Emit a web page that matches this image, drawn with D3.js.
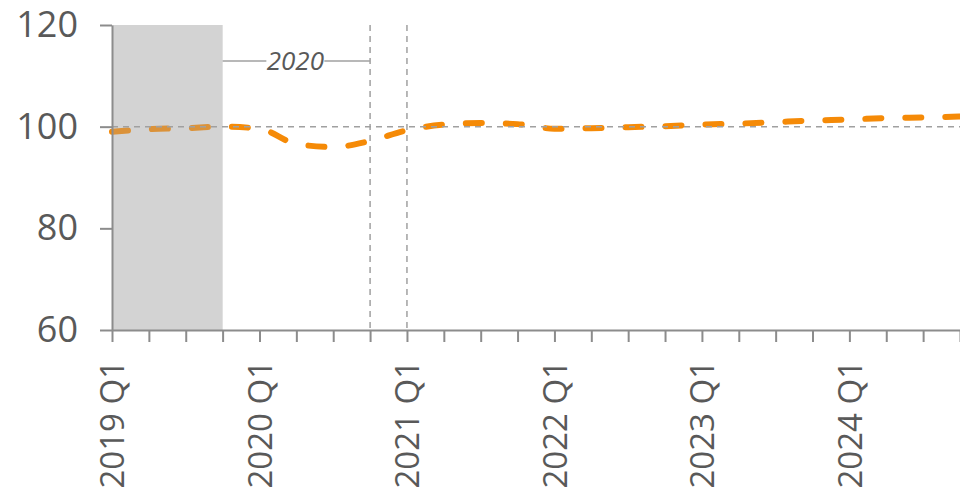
<!DOCTYPE html>
<html>
<head>
<meta charset="utf-8">
<script src="https://cdn.jsdelivr.net/npm/d3@7"></script>
<style>
  html, body { margin: 0; padding: 0; background: #fff; overflow: hidden; }
  svg { display: block; font-family: "Open Sans", "Liberation Sans", sans-serif; }
</style>
</head>
<body>
<div id="chart"></div>
<script>
const quarters = [
  "2019 Q1", "2019 Q2", "2019 Q3", "2019 Q4",
  "2020 Q1", "2020 Q2", "2020 Q3", "2020 Q4",
  "2021 Q1", "2021 Q2", "2021 Q3", "2021 Q4",
  "2022 Q1", "2022 Q2", "2022 Q3", "2022 Q4",
  "2023 Q1", "2023 Q2", "2023 Q3", "2023 Q4",
  "2024 Q1", "2024 Q2", "2024 Q3", "2024 Q4"
];
const indexValues = [
  99.0, 99.5, 99.7, 100.0,
  99.6, 96.6, 96.0, 97.2,
  99.3, 100.4, 100.7, 100.5,
  99.6, 99.7, 99.9, 100.1,
  100.4, 100.6, 100.9, 101.2,
  101.4, 101.7, 101.8, 102.0
];
const yTicks = [60, 80, 100, 120];
const shadedRange = ["2019 Q1", "2019 Q4"];
const markerLines = ["2020 Q4", "2021 Q1"];
const bracketLabel = "2020";

const width = 960, height = 489;
const margin = {top: 25, right: 0, bottom: 159, left: 112};

const svg = d3.select("#chart").append("svg")
  .attr("width", width)
  .attr("height", height);

const x = d3.scalePoint()
  .domain(quarters)
  .range([margin.left, width - margin.right]);

const y = d3.scaleLinear()
  .domain([60, 120])
  .range([height - margin.bottom, margin.top]);

const axisGrey = "#8c8c8c";
const textGrey = "#595959";

// shaded band (under the line)
svg.append("rect")
  .attr("x", x(shadedRange[0]))
  .attr("y", y(120))
  .attr("width", x(shadedRange[1]) - x(shadedRange[0]))
  .attr("height", y(60) - y(120))
  .attr("fill", "#e9e9e9");

// dashed vertical markers
svg.selectAll("line.marker")
  .data(markerLines)
  .enter()
  .append("line")
  .attr("class", "marker")
  .attr("x1", d => x(d)).attr("x2", d => x(d))
  .attr("y1", y(120)).attr("y2", y(60))
  .attr("stroke", "#a0a0a0")
  .attr("stroke-width", 1.5)
  .attr("stroke-dasharray", "6,5");

// the series line
const line = d3.line()
  .x((d, i) => x(quarters[i]))
  .y(d => y(d))
  .curve(d3.curveMonotoneX);

svg.append("path")
  .datum(indexValues)
  .attr("fill", "none")
  .attr("stroke", "#f58a07")
  .attr("stroke-width", 6)
  .attr("stroke-linecap", "round")
  .attr("stroke-dasharray", "16,24")
  .attr("d", line);

// translucent overlay on the band
svg.append("rect")
  .attr("x", x(shadedRange[0]))
  .attr("y", y(120))
  .attr("width", x(shadedRange[1]) - x(shadedRange[0]))
  .attr("height", y(60) - y(120))
  .attr("fill", "#a6a6a6")
  .attr("fill-opacity", 0.32);

// reference line at 100
svg.append("line")
  .attr("x1", x.range()[0]).attr("x2", x.range()[1])
  .attr("y1", y(100)).attr("y2", y(100))
  .attr("stroke", "#a0a0a0")
  .attr("stroke-width", 1.5)
  .attr("stroke-dasharray", "6,5");

// bracket label for 2020
const bx0 = x(shadedRange[1]), bx1 = x(markerLines[0]);
const bMid = (bx0 + bx1) / 2, by = 61;
svg.append("line")
  .attr("x1", bx0).attr("x2", bMid - 30)
  .attr("y1", by).attr("y2", by)
  .attr("stroke", "#a0a0a0").attr("stroke-width", 1.5);
svg.append("line")
  .attr("x1", bMid + 28).attr("x2", bx1)
  .attr("y1", by).attr("y2", by)
  .attr("stroke", "#a0a0a0").attr("stroke-width", 1.5);
svg.append("text")
  .attr("x", bMid - 1)
  .attr("y", by + 9)
  .attr("text-anchor", "middle")
  .attr("font-size", 26)
  .attr("font-style", "italic")
  .attr("fill", textGrey)
  .text(bracketLabel);

// y axis
const yAxis = svg.append("g")
  .attr("transform", `translate(${margin.left},0)`)
  .call(d3.axisLeft(y).tickValues(yTicks).tickSize(12).tickPadding(22).tickSizeOuter(0));

// x axis
const xAxis = svg.append("g")
  .attr("transform", `translate(0,${y(60)})`)
  .call(d3.axisBottom(x).tickSize(12).tickSizeOuter(0)
    .tickFormat(d => d.endsWith("Q1") ? d : ""));

[yAxis, xAxis].forEach(g => {
  g.select(".domain").attr("stroke", axisGrey).attr("stroke-width", 2);
  g.selectAll(".tick line").attr("stroke", axisGrey).attr("stroke-width", 2);
  g.selectAll(".tick text")
    .attr("fill", textGrey)
    .attr("font-size", 36)
    .attr("font-family", "\"Open Sans\", sans-serif");
});

xAxis.selectAll("text")
  .attr("transform", "rotate(-90)")
  .attr("text-anchor", "end")
  .attr("font-size", 33)
  .attr("x", -30)
  .attr("y", 0)
  .attr("dy", "0.36em");
</script>
</body>
</html>
